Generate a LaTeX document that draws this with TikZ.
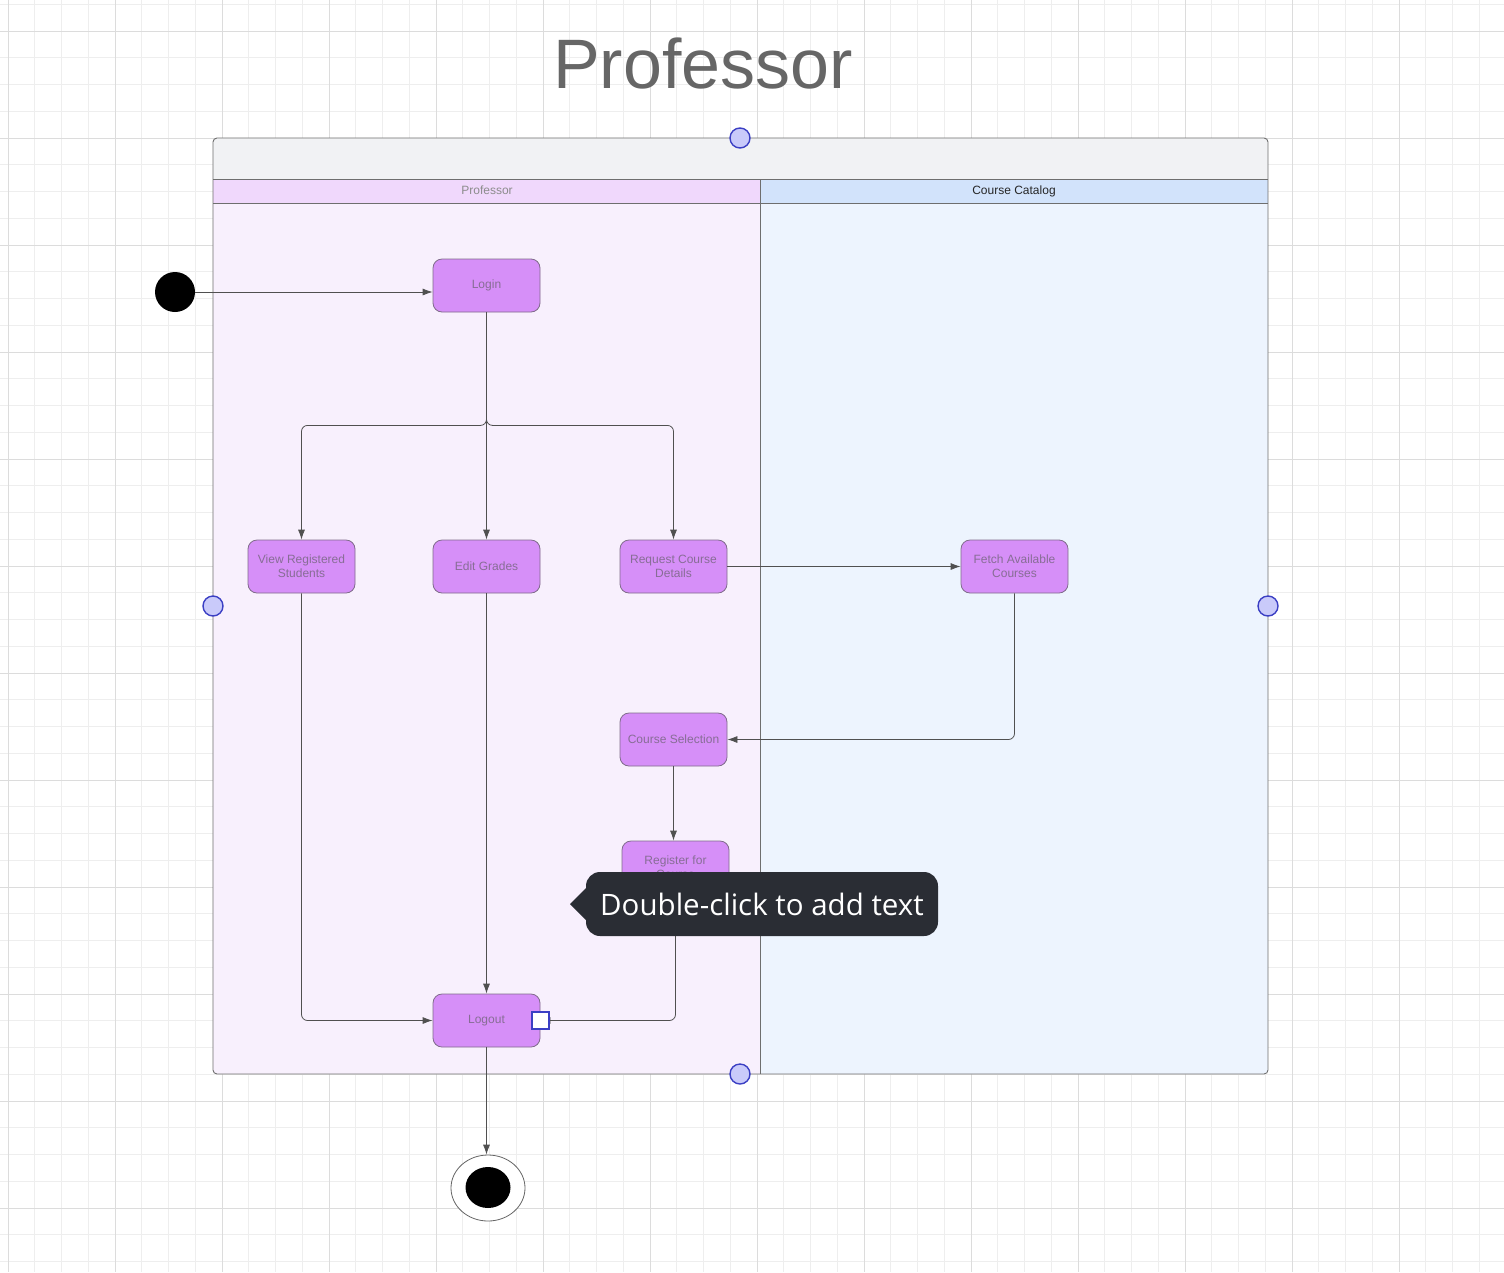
\documentclass[tikz,border=0pt]{standalone}
\usepackage{fontspec}
\setmainfont{Liberation Sans}
\newfontfamily\tipfont{Open Sans}
\usetikzlibrary{arrows.meta,shapes.geometric}
\definecolor{gridminor}{HTML}{EEEEEE}
\definecolor{gridmajor}{HTML}{DCDCDC}
\definecolor{hdrgray}{HTML}{F1F2F4}
\definecolor{purphdr}{HTML}{F0D8FC}
\definecolor{purpbody}{HTML}{F8F0FD}
\definecolor{bluehdr}{HTML}{D2E3FB}
\definecolor{bluebody}{HTML}{EDF4FE}
\definecolor{frame}{HTML}{6E6E6E}
\definecolor{actfill}{HTML}{D68FF8}
\definecolor{actdraw}{HTML}{7F6B8A}
\definecolor{acttext}{HTML}{876D95}
\definecolor{conncol}{HTML}{505050}
\definecolor{handlefill}{HTML}{C9CAFA}
\definecolor{handledraw}{HTML}{3B3FC4}
\definecolor{tipbg}{HTML}{2A2D34}
\begin{document}
\begin{tikzpicture}[x=1pt,y=-1pt,
  actbox/.style={rectangle, rounded corners=9pt, draw=actdraw, line width=0.8pt, fill=actfill,
    minimum width=107pt, minimum height=53pt, text=acttext, align=center, inner sep=0pt,
    font=\fontsize{12}{14}\selectfont},
  conn/.style={draw=conncol, line width=0.8pt, -{Latex[length=10pt,width=7pt]}},
  handle/.style={circle, draw=handledraw, fill=handlefill, line width=1.4pt, minimum size=20pt, inner sep=0pt},
  lanetext/.style={font=\fontsize{12}{14}\selectfont, anchor=base}
]
\useasboundingbox (0,0) rectangle (1504,1272);
\fill[white] (0,0) rectangle (1504,1272);
% grid
\foreach \i in {-1,...,57} {\draw[gridminor, line width=0.8pt] ({8+26.75*\i},0) -- ({8+26.75*\i},1272);}
\foreach \i in {-1,...,48} {\draw[gridminor, line width=0.8pt] (0,{31+26.75*\i}) -- (1504,{31+26.75*\i});}
\foreach \i in {0,...,14} {\draw[gridmajor, line width=0.9pt] ({8+107*\i},0) -- ({8+107*\i},1272);}
\foreach \i in {-1,...,12} {\draw[gridmajor, line width=0.9pt] (0,{31+107*\i}) -- (1504,{31+107*\i});}
% title
\node[font=\fontsize{70}{80}\selectfont, text=black!60, anchor=base] (title) at (703,88) {Professor};
% container
\begin{scope}
\clip[rounded corners=4pt] (213,138) rectangle (1268,1074);
\fill[hdrgray] (213,138) rectangle (1268,179);
\fill[purphdr] (213,179) rectangle (760,203);
\fill[bluehdr] (760,179) rectangle (1268,203);
\fill[purpbody] (213,203) rectangle (760,1074);
\fill[bluebody] (760,203) rectangle (1268,1074);
\end{scope}
\draw[frame, line width=0.9pt] (213,179) -- (1268,179);
\draw[frame, line width=0.9pt] (213,203) -- (1268,203);
\draw[frame, line width=0.9pt] (760,179) -- (760,1074);
\draw[frame, line width=0.9pt, rounded corners=4pt] (213,138) rectangle (1268,1074);
\node[lanetext, text=black!45] (lane1) at (487,194) {Professor};
\node[lanetext, text=black!85] (lane2) at (1014,194) {Course Catalog};
% nodes
\node[circle, fill=black, minimum size=40pt, inner sep=0pt] (init) at (175,292) {};
\node[actbox] (login) at (486.5,285.5) {Login};
\node[actbox] (view) at (301.5,566.5) {View Registered\\Students};
\node[actbox] (edit) at (486.5,566.5) {Edit Grades};
\node[actbox] (req) at (673.5,566.5) {Request Course\\Details};
\node[actbox] (fetch) at (1014.5,566.5) {Fetch Available\\Courses};
\node[actbox] (csel) at (673.5,739.5) {Course Selection};
\node[actbox] (reg) at (675.5,867.5) {Register for\\Course};
\node[actbox] (logout) at (486.5,1020.5) {Logout};
\node[ellipse, draw=black!60, fill=white, line width=0.8pt, minimum width=74pt, minimum height=66pt, inner sep=0pt] (fin) at (488,1188) {};
\node[ellipse, fill=black, minimum width=45pt, minimum height=41pt, inner sep=0pt] (finin) at (488,1187.5) {};
% connectors
\draw[conn] (init) -- (init -| login.west);
\draw[conn, rounded corners=6pt] (login.south) -- ++(0,113) -| (view.north);
\draw[conn] (login.south) -- (edit.north);
\draw[conn, rounded corners=6pt] (login.south) -- ++(0,113) -| (req.north);
\draw[conn] (req.east) -- (fetch.west);
\draw[conn, rounded corners=6pt] (fetch.south) |- (csel.east);
\draw[conn] (csel.south) -- (csel.south |- reg.north);
\draw[conn, rounded corners=6pt] (reg.south) |- (logout.east);
\draw[conn, rounded corners=6pt] (view.south) |- (logout.west);
\draw[conn] (edit.south) -- (logout.north);
\draw[conn] (logout.south) -- (logout.south |- fin.north);
% handles
\node[handle] (h1) at (740,138) {};
\node[handle] (h2) at (213,606) {};
\node[handle] (h3) at (1268,606) {};
\node[handle] (h4) at (740,1074) {};
\node[rectangle, draw=handledraw, fill=white, line width=1.6pt, minimum size=17pt, inner sep=0pt] (sq) at (logout.east) {};
% tooltip
\fill[tipbg] (587,887) -- (570,904) -- (587,921) -- cycle;
\node[rectangle, rounded corners=14pt, fill=tipbg, minimum width=352pt, minimum height=64pt, inner sep=0pt] (tip) at (762,904) {};
\node[text=white, font=\tipfont\fontsize{29.5}{34}\selectfont] (tiptext) at (762,904) {Double-click to add text};
\end{tikzpicture}
\end{document}
